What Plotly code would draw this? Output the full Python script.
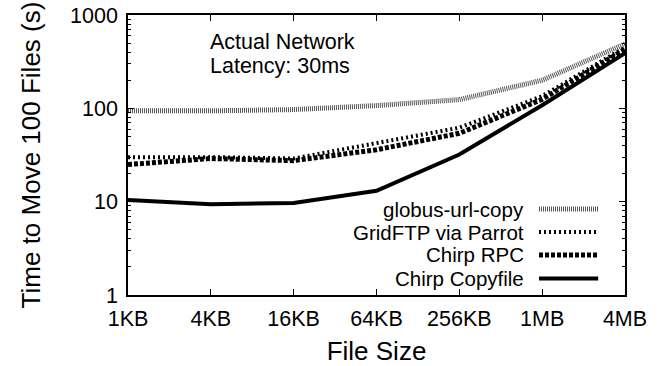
import plotly.graph_objects as go

sizes_kb = [1, 4, 16, 64, 256, 1024, 4096]
tick_labels = ["1KB", "4KB", "16KB", "64KB", "256KB", "1MB", "4MB"]

series_names = ["globus-url-copy", "GridFTP via Parrot", "Chirp RPC", "Chirp Copyfile"]
globus = [94, 94, 97, 107, 124, 200, 490]
gridftp = [30, 30, 29, 42, 62, 135, 450]
chirp_rpc = [25, 29, 27.5, 36, 54, 125, 430]
chirp_copy = [10.4, 9.4, 9.7, 13.1, 32, 108, 390]
series_values = [globus, gridftp, chirp_rpc, chirp_copy]

note_lines = ["Actual Network", "Latency: 30ms"]

styles = [
    dict(color="#555555", width=5, dash="1px,1px"),
    dict(color="black", width=4, dash="2px,3px"),
    dict(color="black", width=5, dash="4px,2px"),
    dict(color="black", width=4, dash="solid"),
]

FONT = "Liberation Sans, Arial, Helvetica, sans-serif"
FS = 21.5
LEG_FS = 20.5

fig = go.Figure()
for name, vals, st in zip(series_names, series_values, styles):
    fig.add_trace(go.Scatter(x=sizes_kb, y=vals, mode="lines", name=name,
                             line=st, showlegend=False))

# manual legend (text left of sample, like gnuplot)
legend_y = [0.307, 0.225, 0.143, 0.059]
for name, st, ly in zip(series_names, styles, legend_y):
    fig.add_annotation(x=0.799, y=ly, xref="paper", yref="paper", text=name,
                       showarrow=False, xanchor="right", yanchor="middle",
                       borderpad=0,
                       font=dict(family=FONT, size=LEG_FS, color="black"))
    fig.add_shape(type="line", xref="paper", yref="paper",
                  x0=0.827, x1=0.946, y0=ly, y1=ly, line=st)

for txt, ny in zip(note_lines, [0.905, 0.819]):
    fig.add_annotation(x=0.163, y=ny, xref="paper", yref="paper",
                       text=txt, showarrow=False, borderpad=0,
                       xanchor="left", yanchor="middle", align="left",
                       font=dict(family=FONT, size=FS, color="black"))

minor_vals = [m * d for d in (1, 10, 100) for m in range(2, 10)]

fig.update_layout(
    width=664, height=366,
    margin=dict(l=128, r=39, t=15, b=71),
    paper_bgcolor="white", plot_bgcolor="white",
    font=dict(family=FONT, size=FS, color="black"),
    xaxis=dict(type="log", range=[0, 3.6124], tickvals=sizes_kb, ticktext=tick_labels,
               ticks="inside", ticklen=6, tickcolor="black", mirror="ticks",
               showline=True, linecolor="black", linewidth=1.5, showgrid=False,
               zeroline=False, title=dict(text="File Size", standoff=14),
               automargin=False,
               tickfont=dict(size=FS), ticklabelstandoff=3),
    yaxis=dict(type="log", range=[0, 3], tickvals=[1, 10, 100, 1000],
               ticktext=["1", "10", "100", "1000"],
               ticks="inside", ticklen=6, tickcolor="black", mirror="ticks",
               showline=True, linecolor="black", linewidth=1.5, showgrid=False,
               zeroline=False, title=dict(text="Time to Move 100 Files (s)", standoff=22),
               automargin=False,
               tickfont=dict(size=FS), ticklabelstandoff=4,
               minor=dict(tickvals=minor_vals, ticks="inside", ticklen=3,
                          tickcolor="black", showgrid=False)),
)

fig.write_html("out.html")
